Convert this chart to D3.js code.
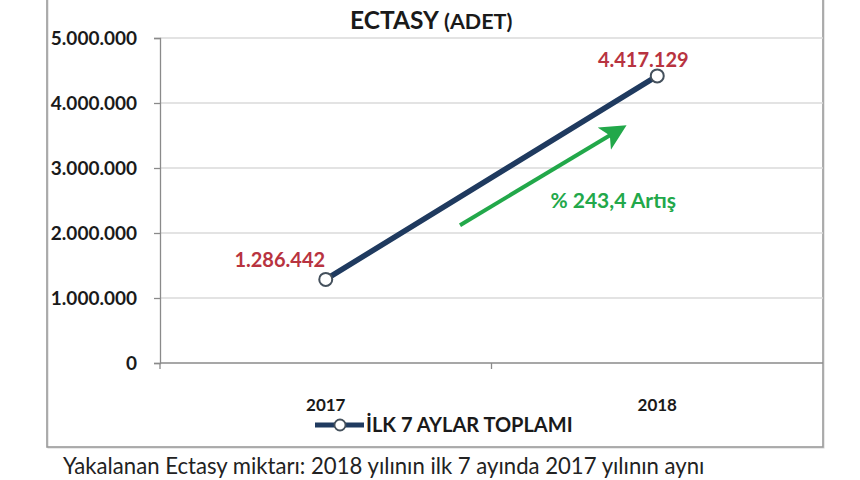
<!DOCTYPE html>
<html>
<head>
<meta charset="utf-8">
<script src="https://cdn.jsdelivr.net/npm/d3@7"></script>
<style>
  html, body { margin: 0; padding: 0; background: #fff; }
  svg { display: block; }
  text { font-family: Lato, "Noto Sans", sans-serif; }
</style>
</head>
<body>
<svg id="chart" width="860" height="480"></svg>
<script>
// ---- data ----
const categories = ["2017", "2018"];
const values = [1286442, 4417129];
const yTicks = [0, 1000000, 2000000, 3000000, 4000000, 5000000];
const seriesName = "İLK 7 AYLAR TOPLAMI";
const titleMain = "ECTASY";
const titleSub = "(ADET)";
const increaseLabel = "% 243,4 Artış";
const caption = "Yakalanan Ectasy miktarı: 2018 yılının ilk 7 ayında 2017 yılının aynı";
// annotation arrow in data space: [category index, value]
const arrowFrom = [0.405, 2120000];
const arrowTo = [0.894, 3615000];
const arrowLabelAt = [0.867, 2500000];

// ---- layout ----
const svg = d3.select("#chart");
const plot = { left: 160, right: 823, top: 38, bottom: 363 };
const navy = "#1f3a5f", red = "#b83340", green = "#22a84a";

const x = d3.scalePoint().domain(categories).range([plot.left, plot.right]).padding(0.5);
const xi = d3.scaleLinear().domain([-0.5, 1.5]).range([plot.left, plot.right]);
const y = d3.scaleLinear().domain([0, 5000000]).range([plot.bottom, plot.top]);
const fmt = v => d3.format(",")(v).replace(/,/g, ".");

// outer frame
svg.append("rect").attr("x", 48).attr("y", -5).attr("width", 776).attr("height", 453)
  .attr("fill", "none").attr("stroke", "#d4d4d4").attr("stroke-width", 1);
svg.append("rect").attr("x", 47).attr("y", -5).attr("width", 776).attr("height", 452)
  .attr("fill", "none").attr("stroke", "#9a9a9a").attr("stroke-width", 1.6);

// gridlines
svg.append("g").selectAll("line").data(yTicks.filter(d => d > 0)).join("line")
  .attr("x1", plot.left).attr("x2", plot.right)
  .attr("y1", d => y(d)).attr("y2", d => y(d))
  .attr("stroke", "#dadada").attr("stroke-width", 1.3);

// y axis
const yAxis = svg.append("g").attr("transform", `translate(${plot.left},0)`)
  .call(d3.axisLeft(y).tickValues(yTicks).tickFormat(fmt).tickSize(6).tickPadding(17));
yAxis.select(".domain").attr("stroke", "#8a8a8a").attr("stroke-width", 1.3);
yAxis.selectAll(".tick line").attr("stroke", "#8a8a8a").attr("stroke-width", 1.3);
yAxis.selectAll(".tick text").attr("font-size", 19).attr("font-weight", 700)
  .attr("fill", "#1a1a1a").attr("font-family", "Lato, sans-serif");

// x axis
svg.append("line").attr("x1", plot.left).attr("x2", plot.right)
  .attr("y1", y(0)).attr("y2", y(0)).attr("stroke", "#8a8a8a").attr("stroke-width", 1.3);
svg.append("g").selectAll("line").data([-0.5, 0.5]).join("line")
  .attr("x1", d => xi(d)).attr("x2", d => xi(d))
  .attr("y1", y(0)).attr("y2", y(0) + 6)
  .attr("stroke", "#8a8a8a").attr("stroke-width", 1.3);
svg.append("g").selectAll("text").data(categories).join("text")
  .attr("x", d => x(d)).attr("y", y(0) + 48)
  .attr("text-anchor", "middle").attr("font-size", 17).attr("font-weight", 700)
  .attr("fill", "#1a1a1a").text(d => d);

// series line
const pts = categories.map((c, i) => ({ c, v: values[i] }));
svg.append("path").datum(pts)
  .attr("d", d3.line().x(d => x(d.c)).y(d => y(d.v)))
  .attr("fill", "none").attr("stroke", navy).attr("stroke-width", 5.5)
  .attr("stroke-linecap", "round");
svg.append("g").selectAll("circle").data(pts).join("circle")
  .attr("cx", d => x(d.c)).attr("cy", d => y(d.v)).attr("r", 6.5)
  .attr("fill", "#fff").attr("stroke", "#44505c").attr("stroke-width", 2);

// data labels
const labelOffsets = [[-46, -12], [-14, -9]];
svg.append("g").selectAll("text").data(pts).join("text")
  .attr("x", (d, i) => x(d.c) + labelOffsets[i][0])
  .attr("y", (d, i) => y(d.v) + labelOffsets[i][1])
  .attr("text-anchor", "middle").attr("font-size", 20).attr("font-weight", 700)
  .attr("fill", red).text(d => fmt(d.v));

// green arrow annotation
svg.append("defs").append("marker")
  .attr("id", "arrowhead").attr("viewBox", "0 0 10 10")
  .attr("refX", 8).attr("refY", 5)
  .attr("markerWidth", 6.5).attr("markerHeight", 6.5)
  .attr("markerUnits", "strokeWidth").attr("orient", "auto")
  .append("path").attr("d", "M0,0 L10,5 L0,10 L2.5,5 Z").attr("fill", green);
svg.append("line")
  .attr("x1", xi(arrowFrom[0])).attr("y1", y(arrowFrom[1]))
  .attr("x2", xi(arrowTo[0])).attr("y2", y(arrowTo[1]))
  .attr("stroke", green).attr("stroke-width", 4)
  .attr("marker-end", "url(#arrowhead)");
svg.append("text")
  .attr("x", xi(arrowLabelAt[0])).attr("y", y(arrowLabelAt[1]) + 7)
  .attr("text-anchor", "middle").attr("font-size", 21).attr("font-weight", 700)
  .attr("fill", green).text(increaseLabel);

// title
const title = svg.append("text").attr("x", 350).attr("y", 29)
  .attr("text-anchor", "start").attr("font-weight", 700).attr("fill", "#1a1a1a");
title.append("tspan").attr("font-size", 24.5).text(titleMain);
title.append("tspan").attr("font-size", 21.5).text(" " + titleSub);

// legend
const lg = svg.append("g");
lg.append("line").attr("x1", 315).attr("x2", 364).attr("y1", 425).attr("y2", 425)
  .attr("stroke", navy).attr("stroke-width", 5);
lg.append("circle").attr("cx", 340).attr("cy", 425).attr("r", 5.5)
  .attr("fill", "#fff").attr("stroke", "#44505c").attr("stroke-width", 1.8);
lg.append("text").attr("x", 366).attr("y", 432)
  .attr("font-size", 20).attr("font-weight", 700).attr("fill", "#1a1a1a").text(seriesName);

// caption
const cap = svg.append("text").attr("x", 63).attr("y", 474)
  .attr("font-size", 19).attr("fill", "#222").text(caption);
const w = cap.node().getComputedTextLength();
cap.attr("font-size", 19 * 642 / w);
</script>
</body>
</html>
